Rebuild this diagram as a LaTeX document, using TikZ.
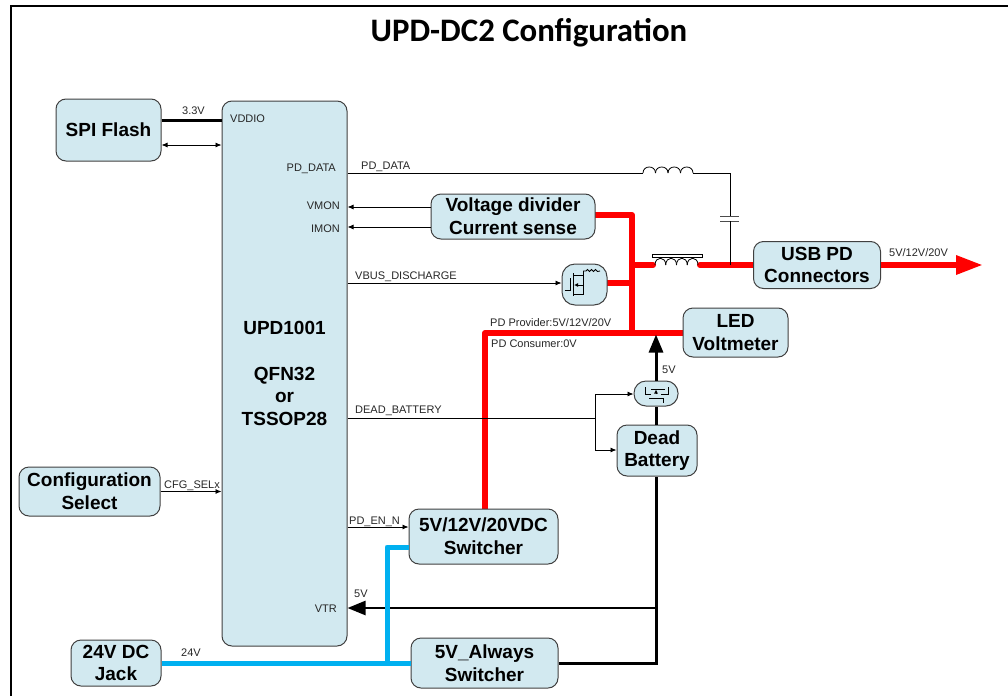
\documentclass[tikz,border=0pt]{standalone}
\usepackage{fontspec}
\setmainfont{Liberation Sans}
\newfontfamily\titlefont{Carlito}
\usetikzlibrary{arrows.meta}

\tikzset{
  block/.style={draw=black!75, fill=blockfill, rounded corners=10pt, line width=1pt, align=center,
    inner sep=0pt, font=\fontsize{19}{22.6}\selectfont\bfseries},
  sig/.style={line width=0.8pt, -{Latex[length=6pt, width=5pt]}},
  redbus/.style={red, line width=6pt},
  bluebus/.style={blue24, line width=5pt},
  lbl/.style={inner sep=0pt, font=\fontsize{11}{12}\selectfont, text=black!85},
  sym/.style={line width=0.8pt},
}
\definecolor{blockfill}{RGB}{210,233,240}
\definecolor{blue24}{RGB}{0,176,240}

\begin{document}
\begin{tikzpicture}[x=1pt, y=-1pt]
  \useasboundingbox (0,0) rectangle (1008,696);

  % frame
  \draw[line width=2pt] (11,696) -- (11,6) -- (1008,6);
  \node[font=\titlefont\fontsize{32.8}{36}\selectfont\bfseries, inner sep=0pt] (title) at (529,33) {UPD-DC2 Configuration};

  % wires under the blocks
  \draw[redbus, line join=round] (632,333) -- (632,215) -- (590,215);
  \draw[redbus] (632,283) -- (600,283);
  \draw[redbus, line cap=round] (632,265) -- (653,265);
  \draw[redbus, line cap=round] (700,265) -- (760,265);
  \draw[redbus, line join=round] (690,333) -- (485,333) -- (485,515);

  % blocks
  \node[block, minimum width=105pt, minimum height=62pt] (spi) at (108.5,130) {SPI Flash};
  \node[block, minimum width=125pt, minimum height=545pt] (upd) at (284.5,373.5) {UPD1001\\[22.6pt]QFN32\\or\\TSSOP28};
  \node[block, minimum width=141pt, minimum height=49pt] (cfg) at (89.5,491.5) {Configuration\\Select};
  \node[block, minimum width=164pt, minimum height=45pt] (div) at (513,216.5) {Voltage divider\\Current sense};
  \node[block, minimum width=45pt, minimum height=41pt, rounded corners=13pt] (dfet) at (584.5,284.5) {};
  \node[block, minimum width=127pt, minimum height=47pt] (usb) at (817,265) {USB PD\\Connectors};
  \node[block, minimum width=105pt, minimum height=49pt] (led) at (735.5,332.5) {LED\\Voltmeter};
  \node[block, minimum width=44pt, minimum height=25pt, rounded corners=12pt] (bfet) at (656,393.5) {};
  \node[block, minimum width=80pt, minimum height=51pt] (dead) at (657,450.5) {Dead\\Battery};
  \node[block, minimum width=149pt, minimum height=55pt] (sw) at (483.5,536.5) {5V/12V/20VDC\\Switcher};
  \node[block, minimum width=147pt, minimum height=50pt] (always) at (484.5,663) {5V\_Always\\Switcher};
  \node[block, minimum width=90pt, minimum height=46pt] (jack) at (116,663) {24V DC\\Jack};

  % power
  \draw[line width=3pt] (spi.east |- 0,120) -- (upd.west |- 0,120);
  \draw[line width=3pt] (always.east) -- (656,663) -- (dead.south -| 656,0);
  \draw[line width=3pt] (dead.north -| 656,0) -- (bfet.south);
  \draw[line width=3pt, -{Triangle[length=18pt, width=14pt]}] (bfet.north) -- (656,334.5);
  \draw[line width=2.5pt, -{Triangle[length=18pt, width=14pt]}] (656,608) -- (upd.east |- 0,608);
  \draw[bluebus] (jack.east) -- (always.west);
  \draw[bluebus, line join=round] (387,663) -- (387,547) -- (sw.west |- 0,547);
  \draw[red, line width=6pt, -{Triangle[length=27pt, width=18pt]}] (usb.east) -- (983,265);

  % signals
  \draw[sig, {Latex[length=6pt, width=5pt]}-{Latex[length=6pt, width=5pt]}] (spi.east |- 0,145) -- (upd.west |- 0,145);
  \draw[sig] (cfg.east) -- (upd.west |- cfg.east);
  \draw[sig] (div.west |- 0,207) -- (upd.east |- 0,207);
  \draw[sig] (div.west |- 0,227) -- (upd.east |- 0,227);
  \draw[sig] (upd.east |- 0,283) -- (dfet.west |- 0,283);
  \draw[sig] (upd.east |- 0,527) -- (sw.west |- 0,527);
  \draw[line width=0.8pt] (upd.east |- 0,418) -- (595,418);
  \draw[sig] (595,450) -- (595,394) -- (bfet.west |- 0,394);
  \draw[sig] (595,450) -- (dead.west |- 0,450);

  % PD_DATA with filter
  \draw[line width=0.8pt] (upd.east |- 0,173) -- (643,173);
  \foreach \i in {0,1,2,3}
    \draw[line width=0.8pt] (643+12.5*\i,173) .. controls +(0,-8) and +(0,-8) .. +(12.5,0);
  \draw[line width=0.8pt] (693,173) -- (730,173) -- (730,216);
  \draw[line width=1pt, black!70] (720,216) -- (739,216);
  \draw[line width=1pt, black!70] (720,221) -- (739,221);
  \draw[line width=0.8pt] (730,221) -- (730,265);

  % common mode choke
  \foreach \i in {0,1,2,3}
    \draw[line width=0.8pt] (655+10.75*\i,265) .. controls +(0,-9) and +(0,-9) .. +(10.75,0);
  \draw[line width=0.8pt, fill=white] (652,254) rectangle (702,257.5);

  % discharge fet
  \draw[sym] (564.5,290) -- (570.7,290) -- (570.7,278);
  \draw[sym] (573.5,273) -- (573.5,296);
  \draw[sym] (573.5,275) -- (583,275);
  \draw[sym] (573.5,294) -- (583,294) -- (583,271);
  \draw[sym] (583,271) -- (586,271) -- (587.5,269.5) -- (589.5,271.5) -- (591.5,269.5) -- (593.5,271.5) -- (595.5,269.5) -- (597.5,271.5) -- (600,271);
  \draw[sym, -{Latex[length=4pt, width=4pt]}] (583,285) -- (574,285);

  % battery fet
  \draw[sym] (645,387) -- (645,394) -- (651,394);
  \draw[sym] (651,389) -- (665,389);
  \draw[sym] (668,387) -- (668,394) -- (661,394);
  \draw[sym, -{Latex[length=4pt, width=4pt]}] (656,394) -- (656,389.5);
  \draw[sym] (649,398) -- (663,398) -- (663,403);

  % labels
  \node[lbl, anchor=west] (l33) at (182,111) {3.3V};
  \node[lbl, anchor=west] (lvddio) at (230,119) {VDDIO};
  \node[lbl, anchor=east] (lpd) at (336,169) {PD\_DATA};
  \node[lbl, anchor=west] (lpdo) at (361,167) {PD\_DATA};
  \node[lbl, anchor=east] (lvmon) at (340,205.5) {VMON};
  \node[lbl, anchor=east] (limon) at (340,228.5) {IMON};
  \node[lbl, anchor=west] (lvbus) at (355,277) {VBUS\_DISCHARGE};
  \node[lbl, anchor=west] (lprov) at (490,323) {PD Provider:5V/12V/20V};
  \node[lbl, anchor=west] (lcons) at (491,344) {PD Consumer:0V};
  \node[lbl, anchor=west] (ldead) at (355,411) {DEAD\_BATTERY};
  \node[lbl, anchor=west] (lcfg) at (164,486) {CFG\_SELx};
  \node[lbl, anchor=west] (len) at (349,522) {PD\_EN\_N};
  \node[lbl, anchor=west] (l5v) at (354,594) {5V};
  \node[lbl, anchor=east] (lvtr) at (337,609) {VTR};
  \node[lbl, anchor=west] (l24) at (181,652.5) {24V};
  \node[lbl, anchor=west] (l5b) at (662,370) {5V};
  \node[lbl, anchor=west] (lusb) at (889,253) {5V/12V/20V};
\end{tikzpicture}
\end{document}
